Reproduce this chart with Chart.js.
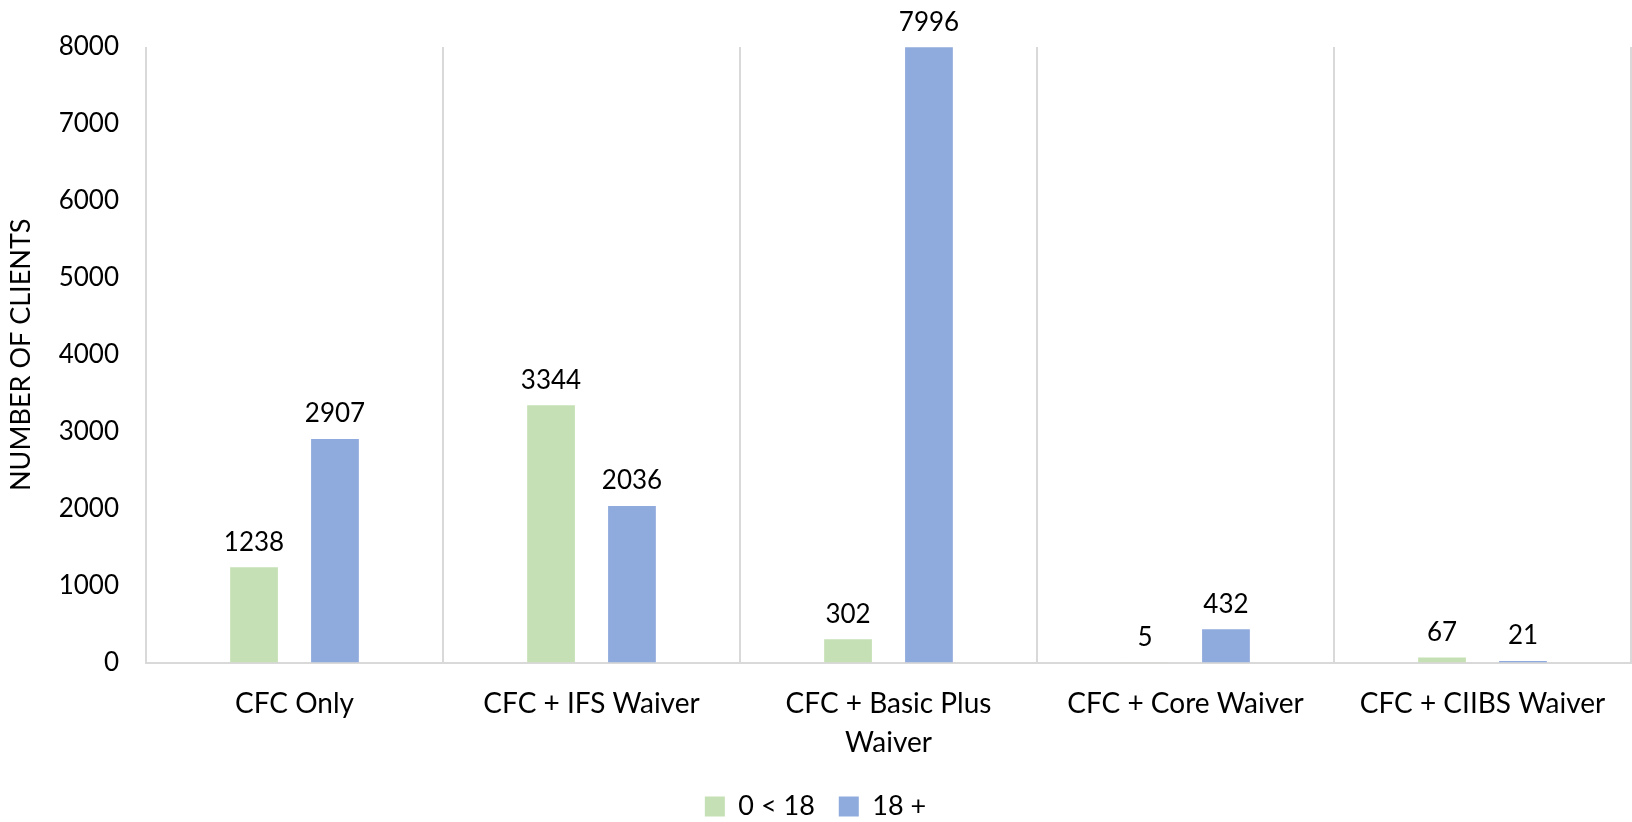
<!DOCTYPE html>
<html>
<head>
<meta charset="utf-8">
<script src="https://cdn.jsdelivr.net/npm/chart.js@4/dist/chart.umd.min.js"></script>
<style>
  html, body { margin: 0; padding: 0; background: #ffffff; }
  #wrap { width: 1632px; height: 822px; position: relative; }
</style>
</head>
<body>
<div id="wrap"><canvas id="c" width="1632" height="822"></canvas></div>
<script>
const categories = [
  'CFC Only',
  'CFC + IFS Waiver',
  ['CFC + Basic Plus', 'Waiver'],
  'CFC + Core Waiver',
  'CFC + CIIBS Waiver'
];
const seriesNames = ['0 < 18', '18 +'];
const under18 = [1238, 3344, 302, 5, 67];
const adults = [2907, 2036, 7996, 432, 21];
const yTicks = [0, 1000, 2000, 3000, 4000, 5000, 6000, 7000, 8000];
const yTitle = 'NUMBER OF CLIENTS';

const FONT = 'Lato';
const GRID = '#d9d9d9';

const valueLabels = {
  id: 'valueLabels',
  afterDatasetsDraw(chart) {
    const ctx = chart.ctx;
    ctx.save();
    ctx.font = '26px ' + FONT;
    ctx.fillStyle = '#000000';
    ctx.textAlign = 'center';
    ctx.textBaseline = 'middle';
    chart.data.datasets.forEach((ds, i) => {
      const meta = chart.getDatasetMeta(i);
      meta.data.forEach((el, j) => {
        ctx.fillText(String(ds.data[j]), el.x, el.y - 25);
      });
    });
    ctx.restore();
  }
};

new Chart(document.getElementById('c'), {
  type: 'bar',
  data: {
    labels: categories,
    datasets: [
      { label: seriesNames[0], data: under18, backgroundColor: '#c5e0b4',
        categoryPercentage: 0.545, barPercentage: 0.59 },
      { label: seriesNames[1], data: adults, backgroundColor: '#8faadc',
        categoryPercentage: 0.545, barPercentage: 0.59 }
    ]
  },
  options: {
    responsive: false,
    animation: false,
    layout: { padding: { top: 47, right: 1, left: 0, bottom: -8 } },
    plugins: {
      tooltip: { enabled: false },
      legend: {
        position: 'bottom',
        labels: {
          font: { family: FONT, size: 27 },
          color: '#000000',
          boxWidth: 20,
          boxHeight: 20,
          padding: 24
        }
      }
    },
    scales: {
      x: {
        offset: true,
        afterFit(scale) { scale.height -= 16; },
        grid: { display: true, offset: true, color: GRID, lineWidth: 2, drawTicks: false },
        border: { display: true, color: GRID, width: 2 },
        ticks: { font: { family: FONT, size: 28, lineHeight: 1.4 }, color: '#000000', padding: 22, maxRotation: 0, autoSkip: false }
      },
      y: {
        min: 0,
        max: 8000,
        afterBuildTicks(scale) { scale.ticks = yTicks.map(v => ({ value: v })); },
        afterFit(scale) { scale.width = 146; },
        grid: { display: false, drawTicks: false },
        border: { display: false },
        ticks: { font: { family: FONT, size: 26 }, color: '#000000', padding: 27,
                 callback: (v) => String(v) },
        title: { display: true, text: yTitle, font: { family: FONT, size: 27 }, color: '#000000', padding: { top: 5, bottom: 0 } }
      }
    }
  },
  plugins: [valueLabels]
});
</script>
</body>
</html>
